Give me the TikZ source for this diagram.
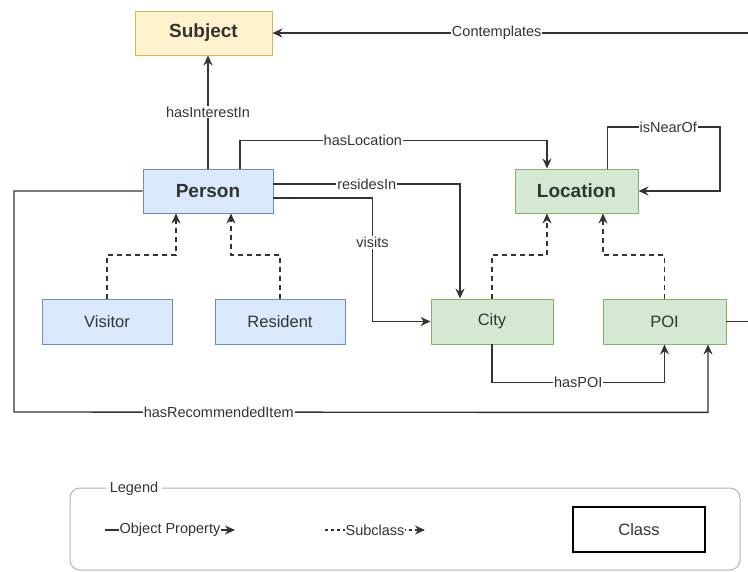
\documentclass[tikz,border=0pt]{standalone}
\usepackage{fontspec}
\setmainfont{Liberation Sans}
\usepackage{tikz}
\usetikzlibrary{arrows.meta,calc}

\definecolor{yellowfill}{HTML}{FFF2CC}
\definecolor{yellowline}{HTML}{D6B656}
\definecolor{bluefill}{HTML}{DAE8FC}
\definecolor{blueline}{HTML}{6C8EBF}
\definecolor{greenfill}{HTML}{D5E8D4}
\definecolor{greenline}{HTML}{82B366}
\definecolor{txt}{HTML}{333333}

\begin{document}
\begin{tikzpicture}[x=1pt,y=-1pt,
    every node/.style={text=txt},
    cls/.style={draw,line width=0.9pt,minimum width=130pt,minimum height=44pt,
        font=\fontsize{16.5}{18}\selectfont},
    main/.style={cls,font=\fontsize{19}{21}\selectfont\bfseries},
    prop/.style={draw=txt,line width=1.4pt,-{Stealth[length=10pt,width=9pt]}},
    sub/.style={prop,dash pattern=on 5pt off 4pt},
    lbl/.style={fill=white,inner sep=1pt,font=\fontsize{14.5}{16}\selectfont}]
            \clip (0,0) rectangle (748,572);
            \useasboundingbox (0,0) rectangle (748,572);

            % Classes
            \node[main,fill=yellowfill,draw=yellowline,minimum width=137pt] (subject) at (203.5,33) {Subject};
            \node[main,fill=bluefill,draw=blueline] (person) at (208,191) {Person};
            \node[cls,fill=bluefill,draw=blueline,minimum height=45pt] (visitor) at (107,321.5) {Visitor};
            \node[cls,fill=bluefill,draw=blueline,minimum height=45pt] (resident) at (280,321.5) {Resident};
            \node[main,fill=greenfill,draw=greenline,minimum width=123pt] (location) at (576.5,191) {Location};
            \node[cls,fill=greenfill,draw=greenline,minimum width=122pt,minimum height=45pt] (city) at (492,321.5) {City};
            \node[cls,fill=greenfill,draw=greenline,minimum width=123pt,minimum height=45pt] (poi) at (664.5,321.5) {POI};

            % Object properties
            \draw[prop] (person.north) -- (person.north |- subject.south) node[lbl,midway] {hasInterestIn};

            \coordinate (contA) at (760,321.5);
            \coordinate (contB) at (760,33);
            \draw[prop] (poi.east) -- (contA) -- (contB) -- (subject.east)
                node[lbl,pos=0.54] {Contemplates};

            \draw[prop] ([xshift=32pt]person.north) |- ($(location.north)+(-29.5,-28)$)
                node[lbl,pos=0.7] {hasLocation} -- ([xshift=-29.5pt]location.north);

            \draw[prop] ([yshift=7pt]person.east) -| ([xshift=-32pt]city.north)
                node[lbl,pos=0.25] {residesIn};

            \draw[prop] ([yshift=-7pt]person.east) -| ($(city.west)+(-58,0)$)
                node[lbl,pos=0.68] {visits} -- (city.west);

            \draw[prop] ([xshift=31pt]location.north) |- (720,127)
                node[lbl,pos=0.77] {isNearOf} |- (location.east);

            \draw[prop] (city.south) |- ($(poi.south)+(0,38)$)
                node[lbl,pos=0.75] {hasPOI} -- (poi.south);

            \draw[prop] (person.west) -| (14,412) -- ($(poi.south)+(43.5,68)$)
                node[lbl,pos=0.295] {hasRecommendedItem} -- ([xshift=43.5pt]poi.south);

            % Subclasses
            \draw[sub] (visitor.north) |- (176,255) -- ([xshift=-32pt]person.south);
            \draw[sub] (resident.north) |- (231,255) -- ([xshift=23pt]person.south);
            \draw[sub] (city.north) |- (547,255) -- ([xshift=-29.5pt]location.south);
            \draw[sub] (poi.north) |- (603,255) -- ([xshift=26.5pt]location.south);

            % Legend
            \draw[gray!60,line width=1pt,rounded corners=10pt] (70,488) rectangle (740,570);
            \node[fill=white,inner sep=4pt,font=\fontsize{14.5}{16}\selectfont] (legend) at (134,489) {Legend};
            \coordinate (opA) at (105,530);
            \coordinate (opB) at (235,530);
            \draw[prop] (opA) -- (opB) node[lbl,midway] {Object Property};
            \coordinate (scA) at (325,530);
            \coordinate (scB) at (425,530);
            \draw[sub,dash pattern=on 3pt off 3pt] (scA) -- (scB) node[lbl,midway] {Subclass};
            \node[cls,draw=black,line width=1.3pt,fill=white,minimum width=132pt,minimum height=45pt] (class) at (639,529.5) {Class};
\end{tikzpicture}
\end{document}
